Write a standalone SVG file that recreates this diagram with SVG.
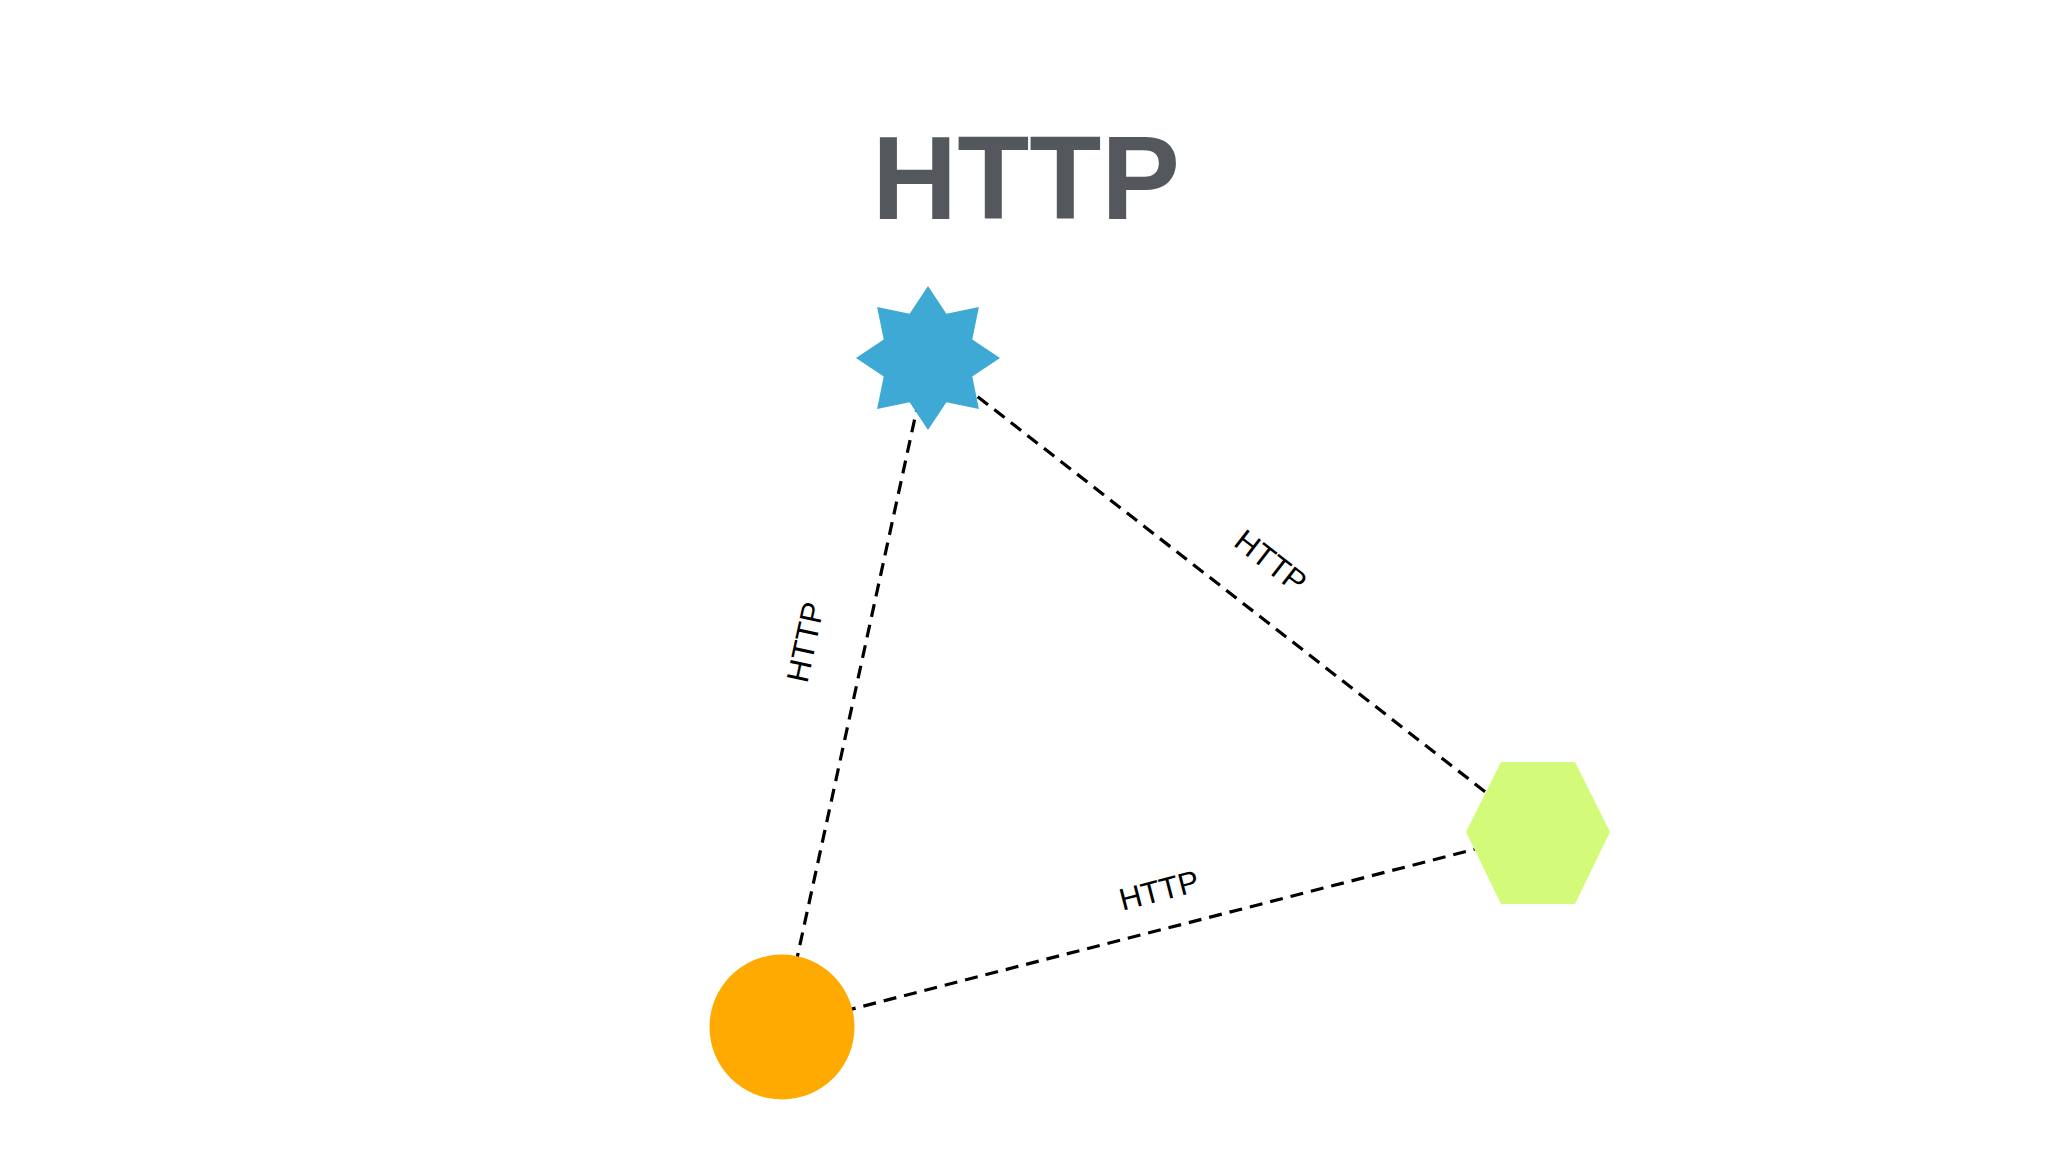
<svg xmlns="http://www.w3.org/2000/svg" width="2048" height="1152" viewBox="0 0 2048 1152">
<style>
.title{font-family:"Liberation Sans",Arial,sans-serif;font-weight:bold;font-size:118px;fill:#54585d;text-anchor:middle}
.edge{stroke:#000;stroke-width:3.2;stroke-dasharray:13 8;fill:none}
.lbl{font-family:"Liberation Sans",Arial,sans-serif;font-size:31px;fill:#000;text-anchor:middle}
</style>
<rect width="2048" height="1152" fill="#ffffff"/>
<text class="title" x="1026" y="219">HTTP</text>
<g id="connectors">
<line class="edge" x1="928" y1="358" x2="782" y2="1027"/>
<line class="edge" x1="928" y1="358" x2="1538" y2="833"/>
<line class="edge" x1="782" y1="1027" x2="1538" y2="833"/>
<text class="lbl" transform="translate(805,642) rotate(-77.7)" dy="11">HTTP</text>
<text class="lbl" transform="translate(1271,561) rotate(37.9)" dy="11">HTTP</text>
<text class="lbl" transform="translate(1159,890) rotate(-14.4)" dy="11">HTTP</text>
</g>
<g id="star">
<polygon fill="#3fa9d5" points="928,286 946.4,313.7 978.9,307.1 972.3,339.6 1000,358 972.3,376.4 978.9,408.9 946.4,402.3 928,430 909.6,402.3 877.1,408.9 883.7,376.4 856,358 883.7,339.6 877.1,307.1 909.6,313.7"/>
</g>
<g id="hexagon">
<polygon fill="#d4fa7a" points="1466,832 1501,762 1575,762 1610,832 1575,904 1501,904"/>
</g>
<g id="circle">
<circle cx="782" cy="1027" r="72.5" fill="#ffaa00"/>
</g>
</svg>
